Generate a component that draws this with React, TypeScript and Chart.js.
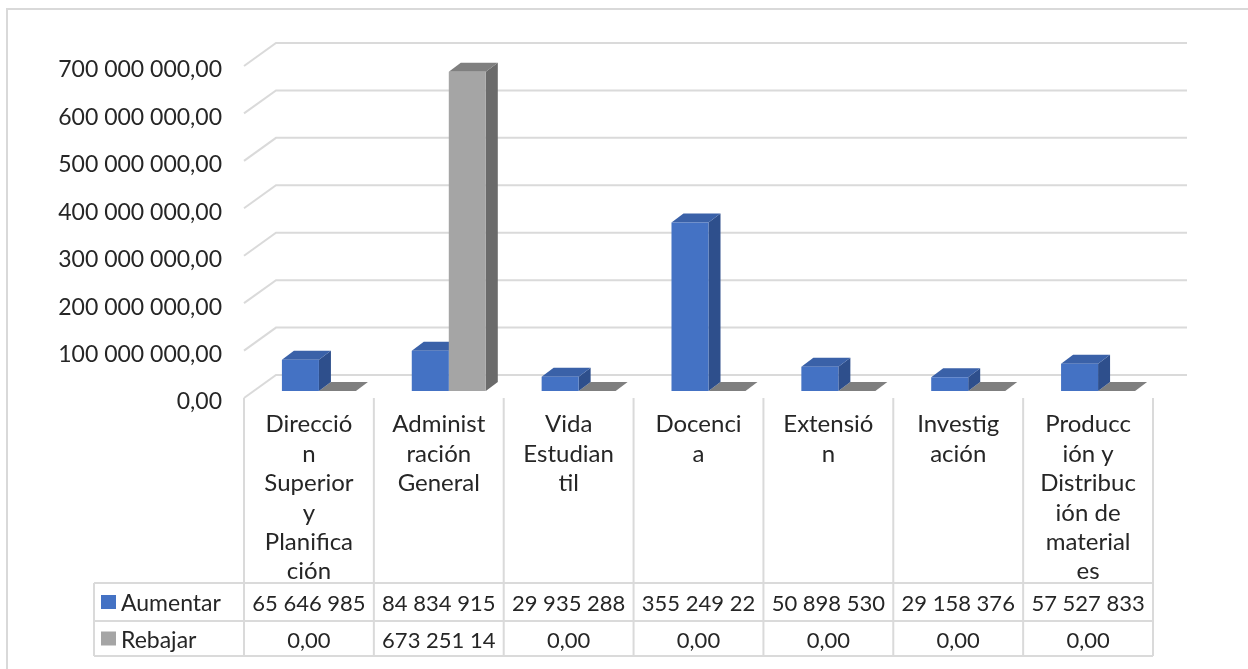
import React, { useEffect, useRef } from 'react';
import { Chart, registerables } from 'chart.js';

Chart.register(...registerables);

// ---- data ----
const categories: string[][] = [
  ['Direcció', 'n', 'Superior', 'y', 'Planifica', 'ción'],
  ['Administ', 'ración', 'General'],
  ['Vida', 'Estudian', 'til'],
  ['Docenci', 'a'],
  ['Extensió', 'n'],
  ['Investig', 'ación'],
  ['Producc', 'ión y', 'Distribuc', 'ión de', 'material', 'es'],
];
const seriesNames = ['Aumentar', 'Rebajar'];
const aumentar = [65646985, 84834915, 29935288, 355249220, 50898530, 29158376, 57527833];
const rebajar = [0, 673251140, 0, 0, 0, 0, 0];
const yMax = 700000000;
const yStep = 100000000;

// ---- styles ----
const FONT = 'Lato, "DejaVu Sans", sans-serif';
const FONT_SIZE = 22;
const TEXT = '#262626';
const GRID = '#dadada';
const COLORS = [
  { front: '#4472C4', side: '#2E4F8C', top: '#3A61A8' },
  { front: '#A5A5A5', side: '#6B6B6B', top: '#7F7F7F' },
];
const DEPTH_X = 12;
const DEPTH_Y = 9;
const FRONT_DX = -10;
const FRONT_DY = 7;
const BACK_DX = 22;
const BACK_DY = -16;

const fmt = (v: number) =>
  Math.round(v).toString().replace(/\B(?=(\d{3})+(?!\d))/g, ' ') + ',00';

function clip(ctx: CanvasRenderingContext2D, s: string, maxW: number) {
  let t = s;
  while (t.length > 1 && ctx.measureText(t).width > maxW) t = t.slice(0, -1);
  if (t !== s) t = t.replace(/[ ,]+$/, '');
  return t;
}

const decorPlugin = {
  id: 'decor',
  beforeDraw(chart: any) {
    const { ctx, width, height } = chart;
    ctx.save();
    ctx.fillStyle = '#ffffff';
    ctx.fillRect(0, 0, width, height);
    ctx.strokeStyle = '#d9d9d9';
    ctx.lineWidth = 2;
    ctx.strokeRect(7, 9, width + 20, height + 20);
    ctx.restore();
  },
  beforeDatasetsDraw(chart: any) {
    const { ctx } = chart;
    const xs = chart.scales.x;
    const ys = chart.scales.y;
    ctx.save();
    ctx.strokeStyle = GRID;
    ctx.lineWidth = 2;
    ys.ticks.forEach((t: any) => {
      const yb = ys.getPixelForValue(t.value);
      ctx.beginPath();
      ctx.moveTo(xs.left + FRONT_DX, yb + FRONT_DY);
      ctx.lineTo(xs.left + BACK_DX, yb + BACK_DY);
      ctx.lineTo(xs.right + 24, yb + BACK_DY);
      ctx.stroke();
    });
    for (let d = chart.data.datasets.length - 1; d >= 0; d--) {
      const meta = chart.getDatasetMeta(d);
      const c = COLORS[d];
      meta.data.forEach((el: any) => {
        const { x, y, base, width } = el.getProps(['x', 'y', 'base', 'width'], true);
        const l = x - width / 2;
        const r = x + width / 2;
        ctx.fillStyle = c.side;
        ctx.beginPath();
        ctx.moveTo(r, y);
        ctx.lineTo(r + DEPTH_X, y - DEPTH_Y);
        ctx.lineTo(r + DEPTH_X, base - DEPTH_Y);
        ctx.lineTo(r, base);
        ctx.closePath();
        ctx.fill();
        ctx.fillStyle = c.top;
        ctx.beginPath();
        ctx.moveTo(l, y);
        ctx.lineTo(l + DEPTH_X, y - DEPTH_Y);
        ctx.lineTo(r + DEPTH_X, y - DEPTH_Y);
        ctx.lineTo(r, y);
        ctx.closePath();
        ctx.fill();
      });
    }
    ctx.restore();
  },
  afterDraw(chart: any) {
    const { ctx } = chart;
    const xs = chart.scales.x;
    const ys = chart.scales.y;
    const n = categories.length;
    const colW = (xs.right - xs.left) / n;
    const left = xs.left + FRONT_DX;
    const right = left + n * colW;
    const floorY = ys.getPixelForValue(0) + FRONT_DY;
    const row1 = 583;
    const row2 = 621;
    const row3 = 656;
    const headLeft = 94;
    ctx.save();
    ctx.strokeStyle = GRID;
    ctx.lineWidth = 2;
    ctx.beginPath();
    for (let i = 0; i <= n; i++) {
      const xx = left + i * colW;
      ctx.moveTo(xx, floorY);
      ctx.lineTo(xx, row3);
    }
    [row1, row2, row3].forEach((yy) => {
      ctx.moveTo(headLeft, yy);
      ctx.lineTo(right, yy);
    });
    ctx.moveTo(headLeft, row1);
    ctx.lineTo(headLeft, row3);
    ctx.stroke();

    ctx.font = `${FONT_SIZE}px ${FONT}`;
    ctx.fillStyle = TEXT;
    ctx.textBaseline = 'middle';
    const rows = [
      { name: seriesNames[0], vals: aumentar, y: (row1 + row2) / 2 + 2 },
      { name: seriesNames[1], vals: rebajar, y: (row2 + row3) / 2 + 2 },
    ];
    rows.forEach((r, d) => {
      ctx.fillStyle = COLORS[d].front;
      ctx.fillRect(101, r.y - 9, 15, 14);
      ctx.fillStyle = TEXT;
      ctx.textAlign = 'left';
      ctx.font = `${FONT_SIZE + 1}px ${FONT}`;
      ctx.fillText(r.name, 121, r.y);
      ctx.font = `${FONT_SIZE}px ${FONT}`;
      ctx.textAlign = 'center';
      r.vals.forEach((v, i) => {
        const cx = xs.getPixelForValue(i) + FRONT_DX;
        ctx.fillText(clip(ctx, fmt(v), colW - 8), cx, r.y);
      });
    });
    ctx.restore();
  },
};

export default function App() {
  const ref = useRef<HTMLCanvasElement>(null);
  useEffect(() => {
    if (!ref.current) return;
    const chart = new Chart(ref.current, {
      type: 'bar',
      data: {
        labels: categories,
        datasets: [
          { label: seriesNames[0], data: aumentar, backgroundColor: COLORS[0].front, borderWidth: 0 },
          { label: seriesNames[1], data: rebajar, backgroundColor: COLORS[1].front, borderWidth: 0 },
        ],
      },
      options: {
        animation: false,
        responsive: false,
        maintainAspectRatio: false,
        categoryPercentage: 0.57,
        barPercentage: 1,
        layout: { padding: { left: 0, top: 59, right: 85, bottom: 0 } },
        plugins: { legend: { display: false }, tooltip: { enabled: false } },
        scales: {
          x: {
            grid: { display: false, drawTicks: false },
            border: { display: false },
            afterFit: (s: any) => { s.height = 278; },
            ticks: {
              autoSkip: false,
              maxRotation: 0,
              minRotation: 0,
              padding: 19,
              labelOffset: FRONT_DX,
              color: TEXT,
              font: { family: FONT, size: FONT_SIZE + 2, lineHeight: '29.4px' },
            },
          },
          y: {
            min: 0,
            max: yMax,
            grid: { display: false, drawTicks: false },
            border: { display: false },
            afterFit: (s: any) => { s.width = 254; },
            ticks: {
              stepSize: yStep,
              padding: 32,
              labelOffset: 11,
              color: TEXT,
              font: { family: FONT, size: FONT_SIZE + 1 },
              callback: (v: any) => fmt(Number(v)),
            },
          },
        },
      },
      plugins: [decorPlugin],
    } as any);
    return () => chart.destroy();
  }, []);
  return (
    <div style={{ position: 'fixed', left: 0, top: 0, width: 1248, height: 669, background: '#fff' }}>
      <canvas ref={ref} width={1248} height={669} style={{ display: 'block' }} />
    </div>
  );
}
